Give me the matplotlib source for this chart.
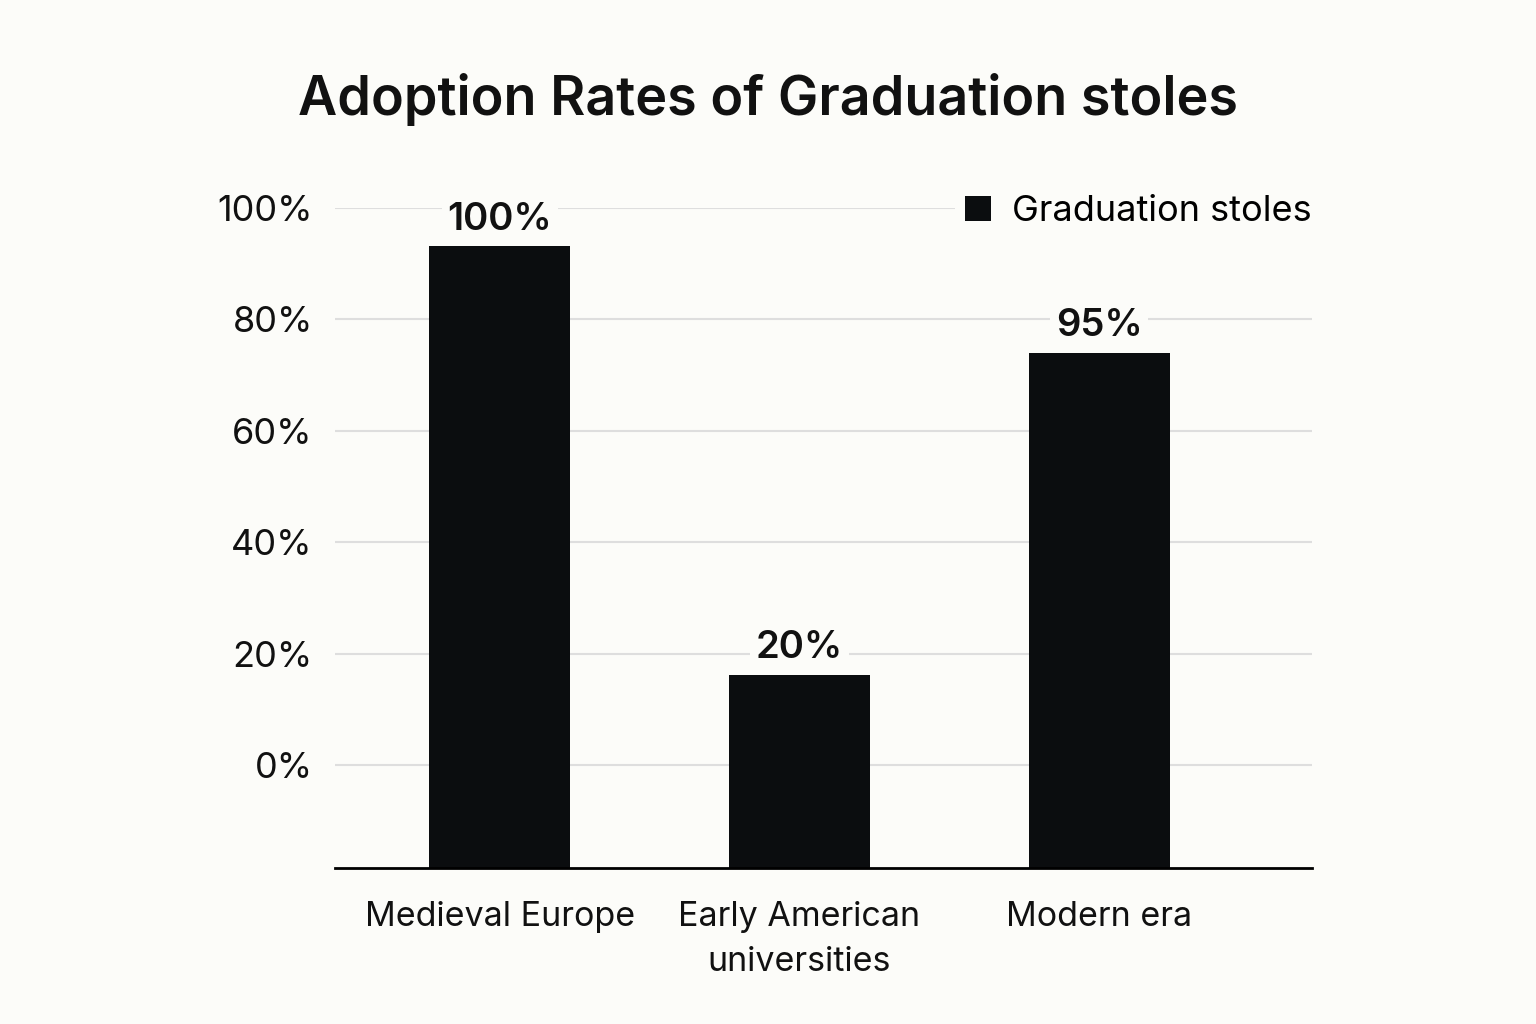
import matplotlib
matplotlib.use('Agg')
import matplotlib.pyplot as plt
import numpy as np

# data
categories = ['Medieval Europe', 'Early American\nuniversities', 'Modern era']
label_values = [100, 20, 95]          # numbers printed above the bars
bar_tops = [93.2, 16.2, 74.0]         # where the bars actually end on the axis
y_floor = -18.5                       # axis baseline sits below the 0% tick
yticks = [0, 20, 40, 60, 80, 100]

bg = '#fcfcf9'
bar_color = '#0b0d0f'

plt.rcParams['font.family'] = ['Inter', 'DejaVu Sans']

fig = plt.figure(figsize=(15.36, 10.24), dpi=100, facecolor=bg)
ax = fig.add_axes([335/1536, 1 - 868/1024, (1312-335)/1536, (868-208)/1024])
ax.set_facecolor(bg)

x = np.arange(len(categories))
heights = [t - y_floor for t in bar_tops]
ax.bar(x, heights, bottom=y_floor, width=0.47, color=bar_color,
       label='Graduation stoles', zorder=3)

for xi, top, v in zip(x, bar_tops, label_values):
    ax.annotate('%d%%' % v, (xi, top), xytext=(0, 6), textcoords='offset points',
                ha='center', va='bottom', fontsize=27.5, fontweight='semibold',
                color='#111111', zorder=5, annotation_clip=False,
                bbox=dict(boxstyle='square,pad=0.15', fc=bg, ec='none'))

ax.set_xlim(-0.55, 2.71)
ax.set_ylim(y_floor, 100)
ax.set_yticks(yticks)
ax.set_yticklabels(['%d%%' % t for t in yticks])
ax.set_xticks(x)
ax.set_xticklabels(categories, linespacing=1.5)
ax.tick_params(axis='y', length=0, pad=16, labelsize=26, labelcolor='#111111')
ax.tick_params(axis='x', length=0, pad=24, labelsize=24.5, labelcolor='#111111')

ax.yaxis.grid(True, color='#dedede', linewidth=1.5, zorder=0)
ax.set_axisbelow(True)
for side in ['top', 'right', 'left']:
    ax.spines[side].set_visible(False)
ax.spines['bottom'].set_linewidth(2)
ax.spines['bottom'].set_color('#000000')
ax.spines['bottom'].set_zorder(4)

leg = ax.legend(loc='center right', bbox_to_anchor=(1.011, 0.994), frameon=True,
                fontsize=26, handlelength=0.7, handleheight=0.7, handletextpad=0.6,
                borderpad=0.3, borderaxespad=0, fancybox=False)
leg.get_frame().set_facecolor(bg)
leg.get_frame().set_edgecolor('none')
leg.get_frame().set_alpha(1)

fig.text(0.5, 1 - 100/1024, 'Adoption Rates of Graduation stoles', ha='center',
         va='center', fontsize=38.8, fontweight='semibold', color='#111111')

fig.savefig('out.png', dpi=100, facecolor=bg)
